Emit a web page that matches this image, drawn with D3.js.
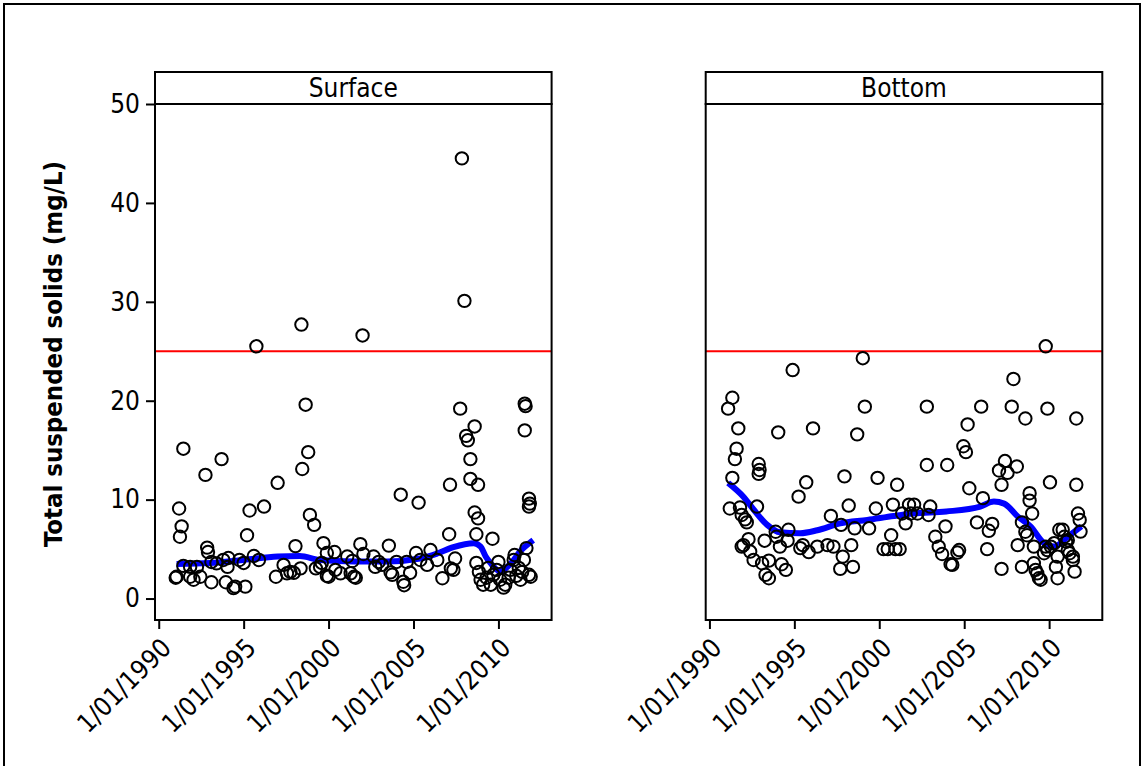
<!DOCTYPE html>
<html>
<head>
<meta charset="utf-8">
<script src="https://cdn.jsdelivr.net/npm/d3@7"></script>
<style>
  body { margin: 0; background: #fff; }
  svg text { font-family: "DejaVu Sans Condensed", "Liberation Sans", sans-serif; }
</style>
</head>
<body>
<div id="chart"></div>
<script>

// panel names
var panels = ["Surface", "Bottom"];

// guideline value (red line)
var guideline = 25;

// y ticks and x tick years
var yTicks = [0, 10, 20, 30, 40, 50];
var xTickYears = [1990, 1995, 2000, 2005, 2010];

// surface samples: [decimal year, TSS mg/L]
var surfacePoints = [
    [1991.45,15.15],[1991.2,9.1],[1991.35,7.3],[1991.25,6.25],[1992.75,12.5],[1993.7,14.1],
    [1995.75,25.5],[1998.4,27.7],[2002.0,26.6],[1998.65,19.6],[1998.8,14.8],[1998.45,13.1],
    [1997.0,11.7],[1996.2,9.3],[1995.35,8.9],[1995.2,6.4],[1998.9,8.45],[1999.15,7.45],
    [1999.7,5.6],[1992.85,5.15],[1992.9,4.7],[1998.05,5.3],[1999.9,4.6],[1991.05,2.2],
    [1991.0,2.1],[1991.45,3.3],[1991.85,3.2],[1991.85,2.2],[1992.05,1.9],[1992.45,2.2],
    [1992.25,3.2],[1993.1,1.65],[1993.1,3.7],[1993.4,3.55],[1993.8,3.9],[1994.1,4.1],
    [1993.95,1.65],[1994.4,1.05],[1994.5,1.2],[1995.1,1.2],[1994.05,3.2],[1994.75,3.9],
    [1995.0,3.6],[1995.6,4.3],[1995.9,3.9],[1996.9,2.2],[1997.35,3.4],[1997.55,2.55],
    [1997.75,2.7],[1997.95,2.6],[1998.35,3.05],[1999.25,3.05],[1999.6,3.6],[2000.0,2.2],
    [2007.75,19.2],[2008.6,17.4],[2008.1,16.45],[2008.2,16.0],[2008.35,14.1],[2008.35,12.1],
    [2008.8,11.5],[2007.15,11.5],[2004.25,10.5],[2005.3,9.7],[2008.6,8.7],[2008.8,8.1],
    [2007.1,6.5],[2008.7,6.5],[2009.65,6.05],[2011.55,19.7],[2011.6,19.45],[2011.55,17.0],
    [2011.8,10.1],[2011.85,9.6],[2011.8,9.3],[2007.85,44.5],[2008.0,30.1],[2000.35,4.7],
    [2001.87,5.5],[2002.05,4.5],[2003.55,5.35],[2006.0,4.9],[2001.1,4.25],[2001.4,3.8],
    [1999.5,3.2],[1999.9,2.3],[2000.4,2.9],[2000.7,2.55],[2001.3,2.55],[2001.5,2.2],
    [2001.6,2.1],[2002.65,4.25],[2002.75,3.2],[2002.95,3.7],[2003.15,3.4],[2003.65,2.65],
    [2003.75,2.4],[2004.0,3.7],[2004.6,3.7],[2004.8,2.6],[2005.15,4.6],[2004.4,1.7],
    [2004.45,1.35],[2005.4,3.9],[2005.8,3.4],[2006.4,3.9],[2006.7,2.05],[2007.2,3.05],
    [2007.35,2.9],[2007.45,4.05],[2008.7,3.6],[2008.85,2.7],[2008.95,1.9],[2009.1,1.4],
    [2009.3,2.1],[2009.4,3.1],[2009.55,1.4],[2009.7,2.4],[2009.9,2.9],[2010.0,3.7],
    [2010.1,1.9],[2010.3,1.1],[2010.4,1.4],[2010.6,2.1],[2010.7,2.9],[2010.9,3.9],
    [2010.95,4.4],[2011.05,2.3],[2011.2,3.1],[2011.3,1.9],[2011.4,2.7],[2011.5,3.9],
    [2011.65,5.1],[2011.8,2.4],[2011.9,2.2]
];

// bottom samples: [decimal year, TSS mg/L]
var bottomPoints = [
    [1999.03,24.3],[1994.9,23.1],[1991.35,20.3],[1991.1,19.2],[1999.15,19.4],[1991.7,17.2],
    [1994.05,16.8],[1996.1,17.2],[1998.7,16.6],[1991.6,15.15],[1991.5,14.1],[1992.9,13.6],
    [1992.95,13.0],[1992.9,12.6],[1991.35,12.2],[1997.95,12.35],[1999.9,12.2],[2001.05,11.5],
    [1995.7,11.75],[1995.25,10.3],[1991.2,9.1],[1991.8,9.2],[1992.8,9.3],[1991.9,8.45],
    [1992.1,8.0],[1992.2,7.7],[1998.2,9.4],[1999.8,9.1],[2000.8,9.5],[1997.15,8.35],
    [1997.75,7.45],[1998.55,7.1],[1999.4,7.1],[1993.9,6.75],[1994.65,6.95],[1992.3,6.0],
    [1992.0,5.4],[1991.9,5.25],[1993.25,5.85],[1993.95,6.25],[1994.15,5.25],[1994.6,5.85],
    [1992.4,4.75],[1992.6,3.9],[1993.1,3.57],[1993.5,3.83],[1993.3,2.4],[1993.5,2.05],
    [1994.25,3.47],[1994.5,2.9],[1995.35,5.1],[1995.5,5.4],[1995.85,4.7],[1996.35,5.25],
    [1996.95,5.4],[1997.3,5.25],[1997.85,4.24],[1998.35,5.4],[1997.7,3.0],[1998.45,3.2],
    [2000.25,5.0],[2000.5,5.0],[2000.95,5.0],[2000.7,6.4],
    [2009.8,25.5],[2007.9,22.2],[2002.8,19.4],[2006.0,19.4],[2007.8,19.4],[2009.9,19.2],
    [2008.6,18.2],[2011.6,18.2],[2005.2,17.6],[2004.95,15.4],[2005.1,14.8],[2002.8,13.5],
    [2004.0,13.5],[2007.4,13.9],[2007.05,12.95],[2007.55,12.7],[2008.1,13.35],[2007.2,11.5],
    [2010.05,11.75],[2011.6,11.5],[2005.3,11.15],[2006.1,10.15],[2008.85,10.65],[2008.85,9.9],
    [2009.0,8.6],[2001.75,9.5],[2002.05,9.5],[2003.0,9.3],[2001.35,8.6],[2001.85,8.6],
    [2002.25,8.6],[2002.9,8.45],[2001.55,7.6],[2003.9,7.3],[2005.75,7.7],[2006.65,7.55],
    [2006.45,6.85],[2008.4,7.7],[2003.3,6.25],[2003.5,5.25],[2003.7,4.5],[2004.2,3.47],
    [2004.3,3.4],[2004.6,4.65],[2004.7,4.9],[2006.35,5.0],[2007.2,3.0],[2001.2,5.0],
    [2008.15,5.4],[2008.4,3.2],[2008.6,6.75],[2008.7,6.4],[2009.1,5.25],[2009.1,3.57],
    [2009.2,2.9],[2009.3,2.55],[2009.4,2.05],[2009.5,1.9],[2009.7,4.58],[2009.8,5.25],
    [2009.9,4.9],[2010.1,5.25],[2010.3,5.6],[2010.4,3.2],[2010.5,2.05],[2010.5,4.24],
    [2010.6,6.95],[2010.8,6.95],[2010.9,6.25],[2011.0,5.75],[2011.1,5.9],[2011.1,4.9],
    [2011.2,4.58],[2011.4,4.24],[2011.4,3.9],[2011.5,2.72],[2011.7,8.6],[2011.8,7.95],
    [2011.85,6.77]
];

// smoothed trend lines
var surfaceTrend = [
    [1991.05,3.5],[1993.0,3.6],[1995.0,3.9],[1997.0,4.25],[1998.3,4.3],[1999.5,3.9],
    [2001.5,3.75],[2003.45,3.75],[2005.4,4.05],[2006.4,4.55],[2007.35,5.2],[2008.55,5.6],
    [2008.95,5.25],[2009.25,4.25],[2009.55,3.55],[2010.1,2.75],[2010.7,3.5],[2011.3,4.8],
    [2012.05,5.9]
];

var bottomTrend = [
    [1991.1,11.7],[1992.0,10.3],[1992.6,9.0],[1993.4,7.45],[1994.15,6.7],[1995.35,6.6],
    [1996.35,6.9],[1997.7,7.6],[1999.3,7.95],[2000.85,8.35],[2002.0,8.6],[2003.95,8.8],
    [2005.95,9.3],[2006.75,9.8],[2007.35,9.6],[2008.15,8.3],[2008.9,7.3],[2009.7,5.6],
    [2010.3,5.25],[2011.1,6.25],[2011.9,7.3]
];

var seriesData = [surfacePoints, bottomPoints];
var trendData = [surfaceTrend, bottomTrend];

// decimal year -> Date
function yearToDate(y) {
    var yr = Math.floor(y);
    var start = new Date(yr, 0, 1), end = new Date(yr + 1, 0, 1);
    return new Date(+start + (y - yr) * (end - start));
}

var width = 1144, height = 766;
var plotTop = 104, plotBottom = 620, stripTop = 72;
var panelLeft = [155, 705.7], panelWidth = 396.6;

var svg = d3.select("#chart").append("svg")
    .attr("width", width)
    .attr("height", height);

// outer frame
svg.append("rect")
    .attr("x", 4).attr("y", 4)
    .attr("width", 1136).attr("height", 790)
    .attr("fill", "none")
    .attr("stroke", "#000")
    .attr("stroke-width", 2);

var y = d3.scaleLinear()
    .domain([-2.17, 50])
    .range([plotBottom, plotTop]);

panels.forEach(function(name, i) {
    var x0 = panelLeft[i];
    var x = d3.scaleTime()
        .domain([yearToDate(1989.78), yearToDate(2013.13)])
        .range([x0, x0 + panelWidth]);

    var g = svg.append("g").attr("class", "panel");

    // trend line first, circles on top
    var line = d3.line()
        .x(function(d) { return x(yearToDate(d[0])); })
        .y(function(d) { return y(d[1]); })
        .curve(d3.curveMonotoneX);

    // red guideline
    g.append("line")
        .attr("x1", x0).attr("x2", x0 + panelWidth)
        .attr("y1", y(guideline)).attr("y2", y(guideline))
        .attr("stroke", "#ff0000")
        .attr("stroke-width", 2);

    g.append("path")
        .datum(trendData[i])
        .attr("d", line)
        .attr("fill", "none")
        .attr("stroke", "#0000ff")
        .attr("stroke-width", 6)
        .attr("stroke-linejoin", "round");

    g.selectAll("circle")
        .data(seriesData[i])
        .enter().append("circle")
        .attr("cx", function(d) { return x(yearToDate(d[0])); })
        .attr("cy", function(d) { return y(d[1]); })
        .attr("r", 6.2)
        .attr("fill", "none")
        .attr("stroke", "#000")
        .attr("stroke-width", 2);

    // panel box
    g.append("rect")
        .attr("x", x0).attr("y", plotTop)
        .attr("width", panelWidth).attr("height", plotBottom - plotTop)
        .attr("fill", "none")
        .attr("stroke", "#000")
        .attr("stroke-width", 2);

    // strip
    g.append("rect")
        .attr("x", x0).attr("y", stripTop)
        .attr("width", panelWidth).attr("height", plotTop - stripTop)
        .attr("fill", "#fff")
        .attr("stroke", "#000")
        .attr("stroke-width", 2);
    g.append("text")
        .attr("x", x0 + panelWidth / 2)
        .attr("y", plotTop - 7)
        .attr("text-anchor", "middle")
        .attr("font-size", 26)
        .text(name);

    // x axis
    var xAxis = d3.axisBottom(x)
        .tickValues(xTickYears.map(function(d) { return new Date(d, 0, 1); }))
        .tickFormat(d3.timeFormat("%-d/%m/%Y"))
        .tickSizeInner(8)
        .tickSizeOuter(0);
    var gx = g.append("g")
        .attr("transform", "translate(0," + (plotBottom + 1) + ")")
        .call(xAxis);
    gx.select(".domain").remove();
    gx.selectAll("line").attr("stroke-width", 2);
    gx.selectAll("text")
        .attr("font-size", 26)
        .attr("fill", "#000")
        .attr("text-anchor", "end")
        .attr("x", 0).attr("y", 0).attr("dy", "0.35em")
        .attr("transform", "translate(7,22) rotate(-45)");

    // y axis only on the first panel
    if (i == 0) {
        var yAxis = d3.axisLeft(y)
            .tickValues(yTicks)
            .tickSizeInner(8)
            .tickSizeOuter(0)
            .tickPadding(6);
        var gy = g.append("g")
            .attr("transform", "translate(" + (x0 - 1) + ",0)")
            .call(yAxis);
        gy.select(".domain").remove();
        gy.selectAll("line").attr("stroke-width", 2);
        gy.selectAll("text").attr("font-size", 26).attr("fill", "#000");
    }
});

// y axis title
svg.append("text")
    .attr("transform", "translate(62," + ((plotTop + plotBottom) / 2 - 8) + ") rotate(-90)")
    .attr("text-anchor", "middle")
    .attr("font-size", 25.5)
    .attr("font-weight", "bold")
    .text("Total suspended solids (mg/L)");

</script>
</body>
</html>
